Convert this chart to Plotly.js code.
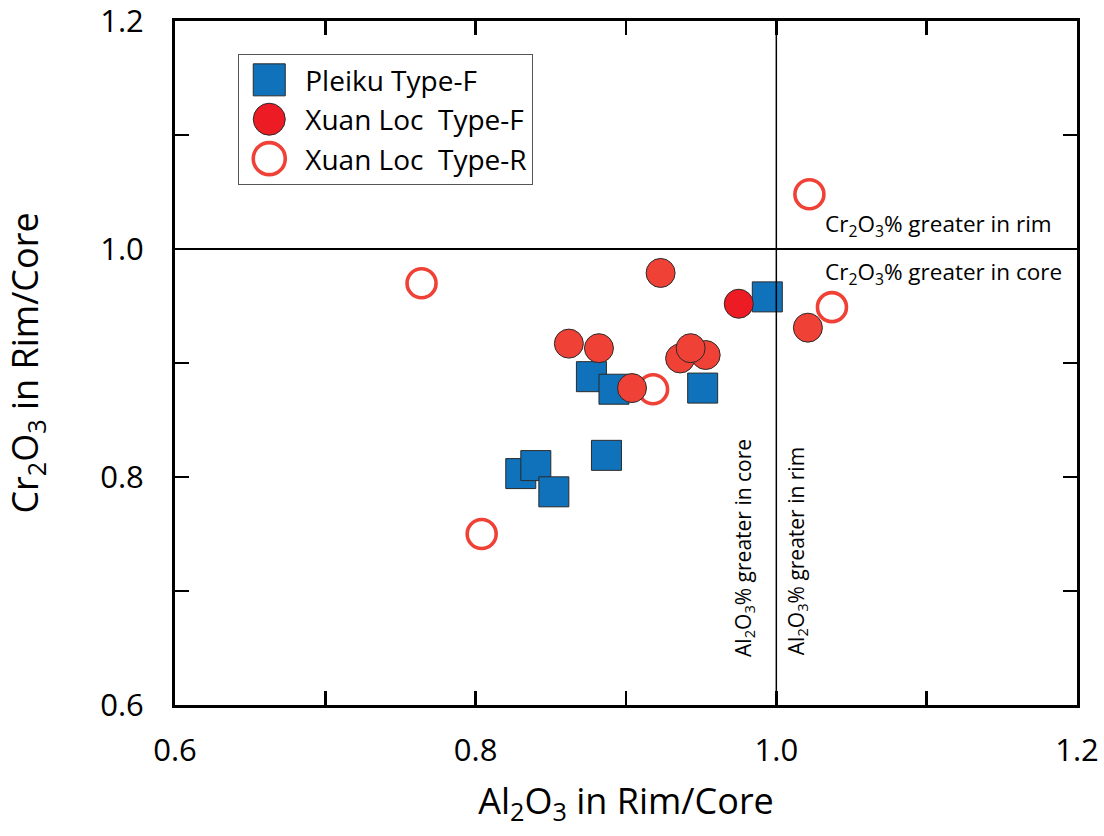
<!DOCTYPE html>
<html>
<head>
<meta charset="utf-8">
<script src="https://cdn.plot.ly/plotly-3.0.1.min.js"></script>
<style>
  html, body { margin: 0; padding: 0; background: #fff; }
  #chart { width: 1104px; height: 836px; }
</style>
</head>
<body>
<div id="chart"></div>
<script>
// ---- Data ----
const seriesNames = ['Pleiku Type-F', 'Xuan Loc  Type-F', 'Xuan Loc  Type-R'];

const pleikuAl = [0.994, 0.877, 0.892, 0.951, 0.887, 0.830, 0.840, 0.852];
const pleikuCr = [0.958, 0.888, 0.877, 0.878, 0.819, 0.803, 0.810, 0.787];

const xuanFAl = [0.975, 0.923, 1.021, 0.862, 0.882, 0.904, 0.936, 0.953, 0.943];
const xuanFCr = [0.952, 0.979, 0.931, 0.917, 0.913, 0.878, 0.904, 0.907, 0.913];
const xuanFColors = ['#ED1C24', '#EF4136', '#EF4136', '#EF4136', '#EF4136', '#EF4136', '#EF4136', '#EF4136', '#EF4136'];

const xuanRAl = [0.764, 1.022, 1.037, 0.918, 0.804];
const xuanRCr = [0.970, 1.048, 0.949, 0.877, 0.750];

const axisRange = [0.6, 1.2];
const majorTickVals = [0.6, 0.8, 1.0, 1.2];
const majorTickText = ['0.6', '0.8', '1.0', '1.2'];
const minorTickVals = [0.7, 0.9, 1.1];
const refValue = 1.0;

// ---- Traces ----
const FONT = '"Open Sans", "Noto Sans", sans-serif';

const traces = [
  {
    type: 'scatter', mode: 'markers', name: seriesNames[0],
    x: pleikuAl, y: pleikuCr, legendrank: 1,
    marker: { symbol: 'square', size: 30, color: '#1072BA', line: { color: '#2a2a2a', width: 1 } }
  },
  {
    type: 'scatter', mode: 'markers', name: seriesNames[2],
    x: xuanRAl, y: xuanRCr, legendrank: 3,
    marker: { symbol: 'circle-open', size: 29, color: '#EF4136', line: { width: 3.6 } }
  },
  {
    type: 'scatter', mode: 'markers', name: seriesNames[1],
    x: xuanFAl, y: xuanFCr, legendrank: 2,
    marker: { symbol: 'circle', size: 29, color: xuanFColors, line: { color: '#2a2a2a', width: 1 } }
  }
];

const axisCommon = {
  range: axisRange,
  tickmode: 'array',
  tickvals: majorTickVals,
  ticktext: majorTickText,
  ticks: 'inside',
  ticklen: 14,
  tickwidth: 2.5,
  tickcolor: '#000',
  minor: { tickmode: 'array', tickvals: minorTickVals, ticks: 'inside', ticklen: 14, tickwidth: 2.5, tickcolor: '#000', showgrid: false },
  showline: true,
  linewidth: 3,
  linecolor: '#000',
  mirror: 'ticks',
  showgrid: false,
  zeroline: false,
  ticklabeloverflow: 'allow',
  tickfont: { family: FONT, size: 31, color: '#000' }
};

const layout = {
  width: 1104,
  height: 836,
  paper_bgcolor: '#fff',
  plot_bgcolor: '#fff',
  margin: { l: 175, r: 27, t: 21, b: 131 },
  showlegend: true,
  font: { family: FONT, color: '#000' },
  xaxis: Object.assign({}, axisCommon, {
    ticklabelstandoff: 16,
    title: { text: 'Al<sub>2</sub>O<sub>3</sub> in Rim/Core', font: { family: FONT, size: 36, color: '#000' }, standoff: 20 }
  }),
  yaxis: Object.assign({}, axisCommon, {
    ticklabelstandoff: 22,
    title: { text: 'Cr<sub>2</sub>O<sub>3</sub> in Rim/Core', font: { family: FONT, size: 36, color: '#000' }, standoff: 54 }
  }),
  legend: {
    x: 0.0698, y: 0.952, xanchor: 'left', yanchor: 'top',
    bgcolor: '#fff', bordercolor: '#555', borderwidth: 1.3,
    font: { family: FONT, size: 28, color: '#000' },
    itemwidth: 56,
    traceorder: 'normal'
  },
  shapes: [
    { type: 'line', xref: 'x', yref: 'y', x0: axisRange[0], x1: axisRange[1], y0: refValue, y1: refValue,
      line: { color: '#000', width: 2 } },
    { type: 'line', xref: 'x', yref: 'y', x0: refValue, x1: refValue, y0: axisRange[0], y1: axisRange[1],
      line: { color: '#000', width: 1.5 } }
  ],
  annotations: [
    { xref: 'x', yref: 'y', x: 1.031, y: 1.021, xanchor: 'left', yanchor: 'middle', showarrow: false,
      text: 'Cr<sub>2</sub>O<sub>3</sub>% greater in rim', font: { family: FONT, size: 22.5, color: '#000' } },
    { xref: 'x', yref: 'y', x: 1.031, y: 0.979, xanchor: 'left', yanchor: 'middle', showarrow: false,
      text: 'Cr<sub>2</sub>O<sub>3</sub>% greater in core', font: { family: FONT, size: 22.5, color: '#000' } },
    { xref: 'x', yref: 'y', x: 0.978, y: 0.738, xanchor: 'center', yanchor: 'middle', showarrow: false, textangle: -90,
      text: 'Al<sub>2</sub>O<sub>3</sub>% greater in core', font: { family: FONT, size: 21, color: '#000' } },
    { xref: 'x', yref: 'y', x: 1.0138, y: 0.735, xanchor: 'center', yanchor: 'middle', showarrow: false, textangle: -90,
      text: 'Al<sub>2</sub>O<sub>3</sub>% greater in rim', font: { family: FONT, size: 21, color: '#000' } }
  ]
};

Plotly.newPlot('chart', traces, layout, { staticPlot: true, displayModeBar: false }).then(function (gd) {
  // enlarge legend symbols to match the size of the plotted markers
  gd.querySelectorAll('.legend path.scatterpts').forEach(function (p) {
    p.setAttribute('transform', 'translate(30,0) scale(2)');
    p.style.vectorEffect = 'non-scaling-stroke';
  });
});
</script>
</body>
</html>
